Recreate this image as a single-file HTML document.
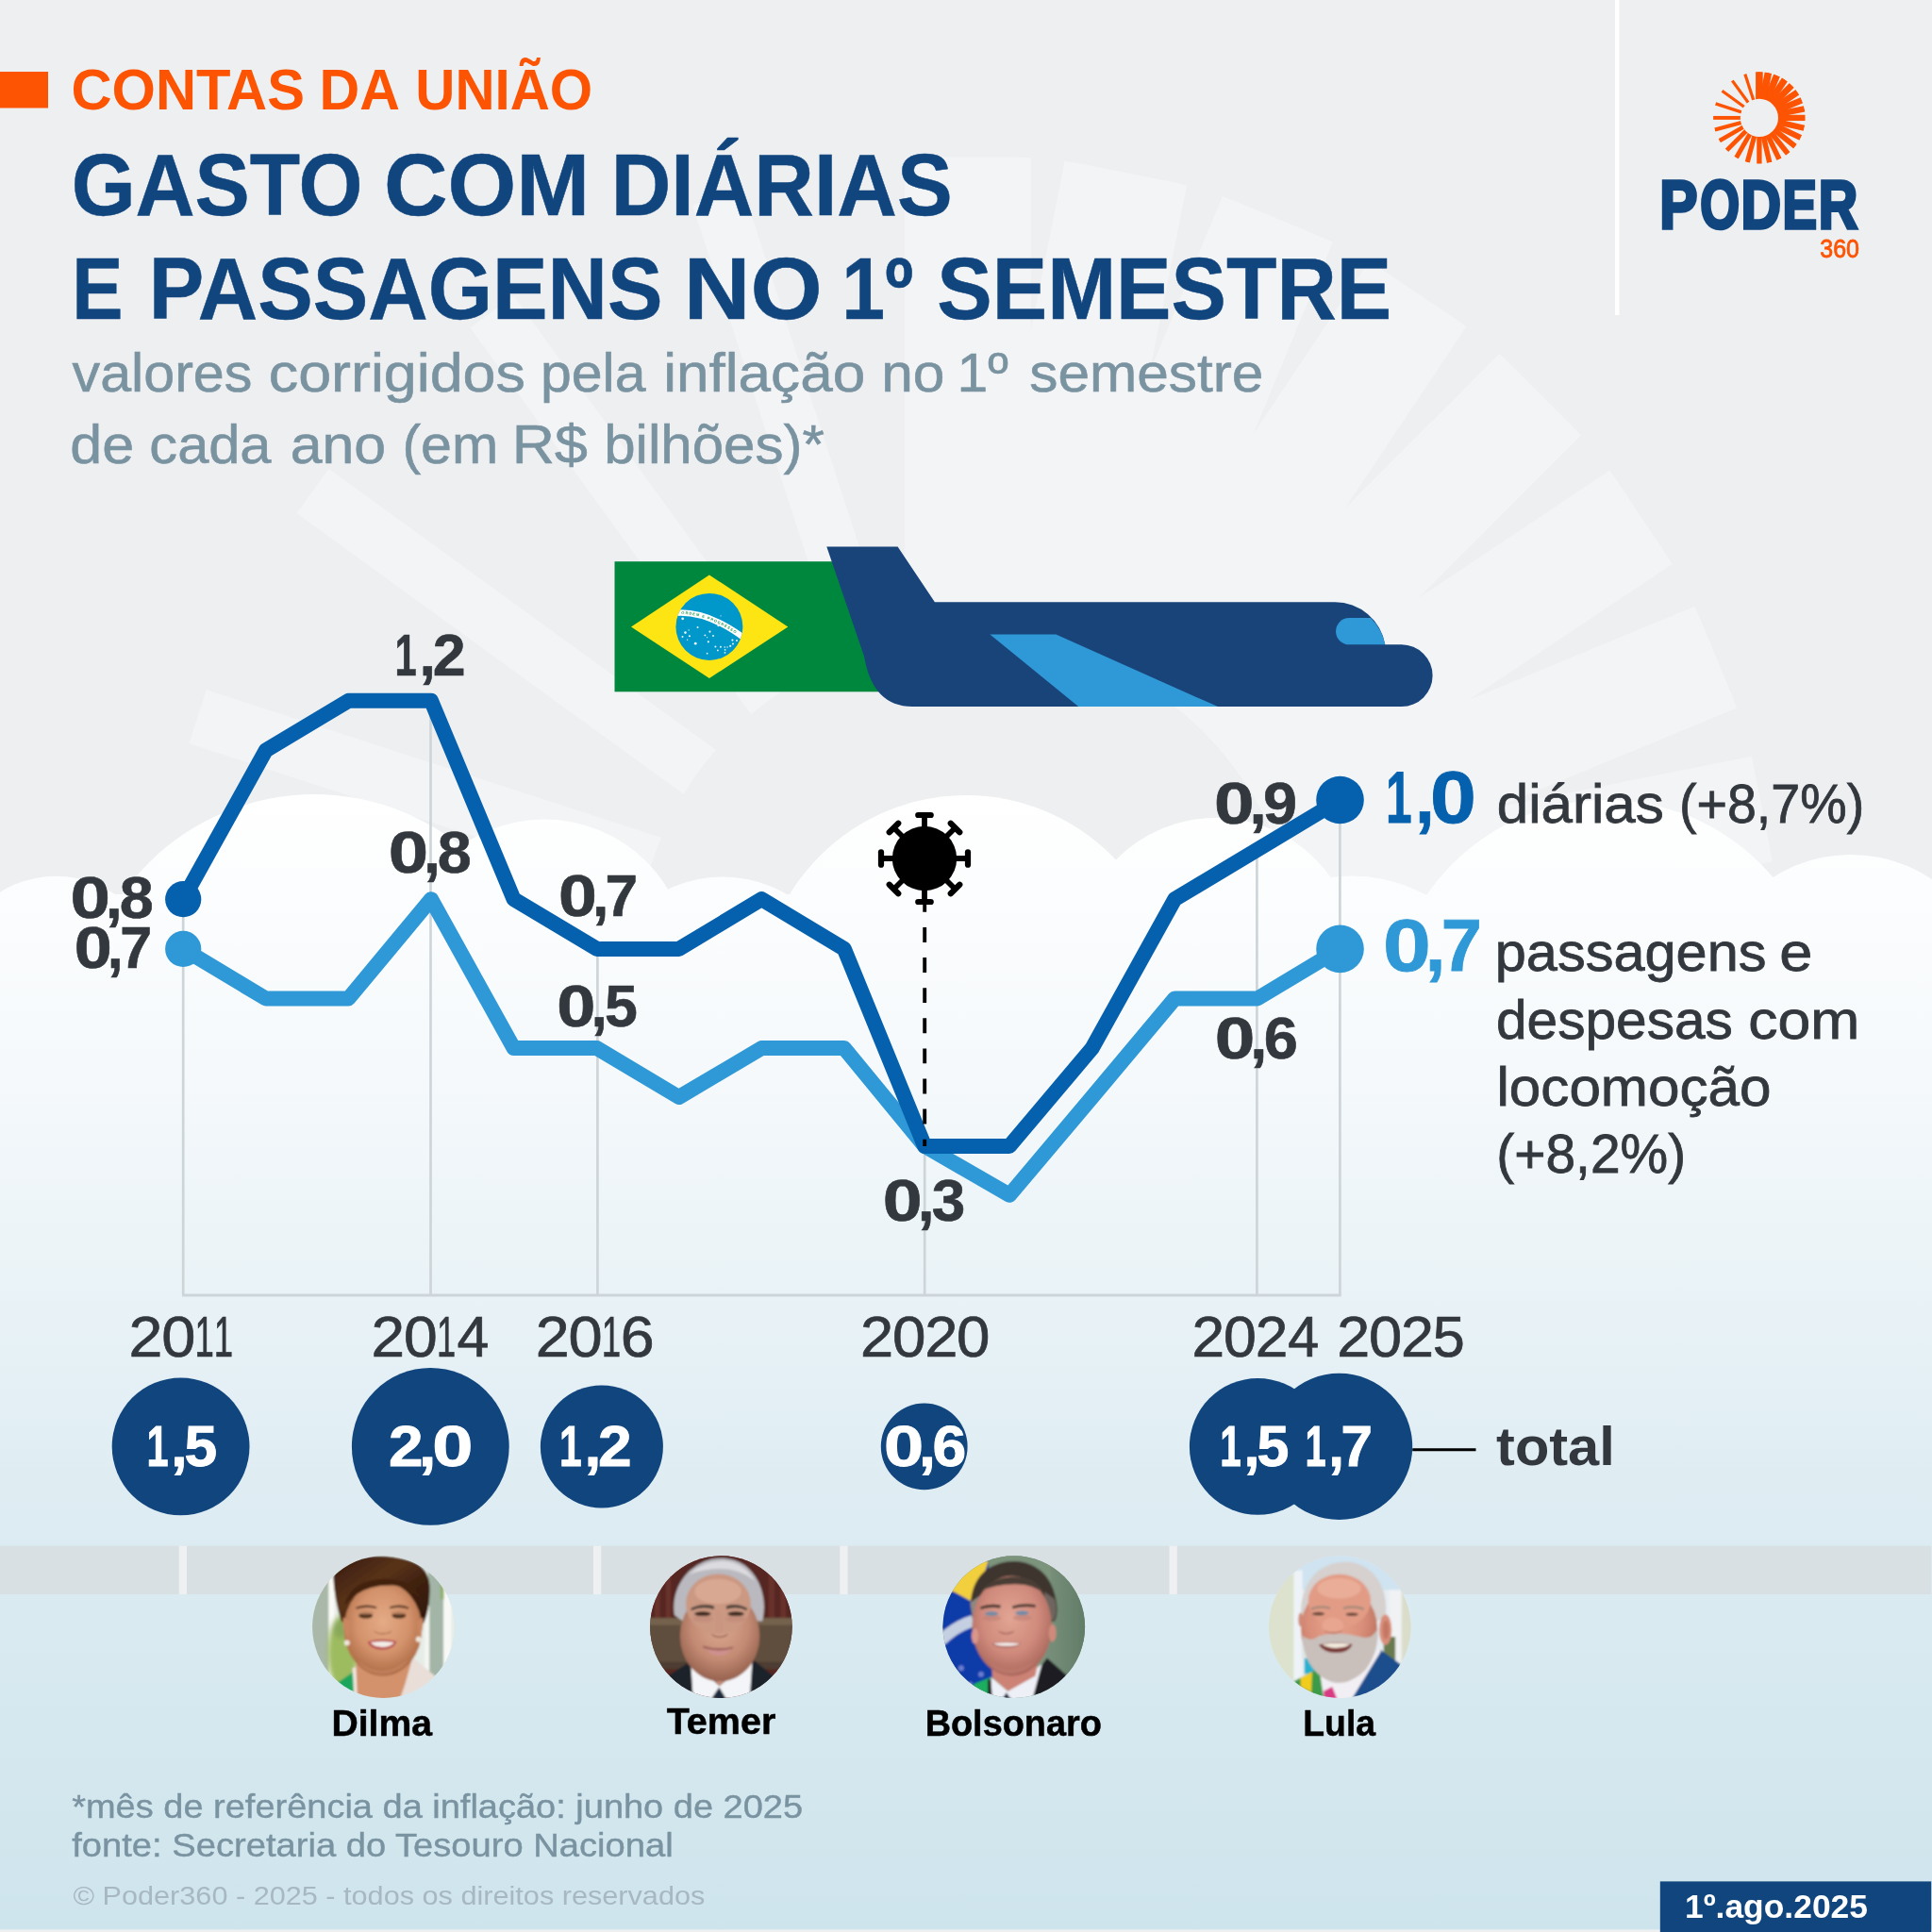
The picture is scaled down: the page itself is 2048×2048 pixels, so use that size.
<!DOCTYPE html>
<html lang="pt-BR"><head><meta charset="utf-8"><title>Gasto com diárias e passagens no 1º semestre</title>
<style>html,body{margin:0;padding:0;background:#eeeff1}body{width:2048px;height:2048px;overflow:hidden}svg{display:block}</style></head>
<body>
<svg width="2048" height="2048" viewBox="0 0 2048 2048" font-family='"Liberation Sans", sans-serif'>
<defs>
<linearGradient id="sky" x1="0" y1="840" x2="0" y2="2048" gradientUnits="userSpaceOnUse">
<stop offset="0" stop-color="#ffffff"/><stop offset="0.25" stop-color="#f5f9fb"/><stop offset="0.6" stop-color="#dfedf3"/><stop offset="1" stop-color="#cee4ec"/></linearGradient>
</defs>
<rect width="2048" height="2048" fill="#eeeff1"/>
<defs><mask id="mbg" maskUnits="userSpaceOnUse" x="146.5" y="145.5" width="1759.0" height="1759.0"><circle cx="1026" cy="1025" r="860.2" fill="#fff"/><circle cx="1026" cy="1025" r="352.7" fill="#000"/></mask></defs>
<g fill="#f3f4f6" mask="url(#mbg)">
<rect x="175.9" y="-28.14" width="682.5" height="56.29" transform="translate(1026,1025) rotate(-108.000)"/>
<rect x="175.9" y="-28.58" width="682.5" height="57.17" transform="translate(1026,1025) rotate(-126.000)"/>
<rect x="175.9" y="-29.02" width="682.5" height="58.05" transform="translate(1026,1025) rotate(-144.000)"/>
<rect x="175.9" y="-29.90" width="682.5" height="59.81" transform="translate(1026,1025) rotate(-162.000)"/>
<rect x="175.9" y="-34.30" width="682.5" height="68.60" transform="translate(1026,1025) rotate(-180.000)"/>
<rect x="175.9" y="-36.94" width="682.5" height="73.88" transform="translate(1026,1025) rotate(-195.000)"/>
<rect x="175.9" y="-39.58" width="682.5" height="79.16" transform="translate(1026,1025) rotate(-210.000)"/>
<rect x="175.9" y="-42.22" width="682.5" height="84.43" transform="translate(1026,1025) rotate(-225.000)"/>
<rect x="175.9" y="-43.68" width="682.5" height="87.36" transform="translate(1026,1025) rotate(-240.000)"/>
<rect x="175.9" y="-45.15" width="682.5" height="90.30" transform="translate(1026,1025) rotate(-255.000)"/>
<rect x="175.9" y="-46.61" width="682.5" height="93.23" transform="translate(1026,1025) rotate(-270.000)"/>
<rect x="175.9" y="-47.87" width="682.5" height="95.74" transform="translate(1026,1025) rotate(-282.857)"/>
<rect x="175.9" y="-49.13" width="682.5" height="98.25" transform="translate(1026,1025) rotate(-295.714)"/>
<rect x="175.9" y="-50.38" width="682.5" height="100.77" transform="translate(1026,1025) rotate(-308.571)"/>
<rect x="175.9" y="-51.64" width="682.5" height="103.28" transform="translate(1026,1025) rotate(-321.429)"/>
<rect x="175.9" y="-52.90" width="682.5" height="105.79" transform="translate(1026,1025) rotate(-334.286)"/>
<rect x="175.9" y="-54.15" width="682.5" height="108.30" transform="translate(1026,1025) rotate(-347.143)"/>
<rect x="175.9" y="-55.41" width="682.5" height="110.82" transform="translate(1026,1025) rotate(-360.000)"/>
<rect x="175.9" y="-56.84" width="682.5" height="113.68" transform="translate(1026,1025) rotate(-371.250)"/>
<rect x="175.9" y="-58.27" width="682.5" height="116.53" transform="translate(1026,1025) rotate(-382.500)"/>
<rect x="175.9" y="-59.70" width="682.5" height="119.39" transform="translate(1026,1025) rotate(-393.750)"/>
<rect x="175.9" y="-61.13" width="682.5" height="122.25" transform="translate(1026,1025) rotate(-405.000)"/>
<rect x="175.9" y="-62.22" width="682.5" height="124.45" transform="translate(1026,1025) rotate(-416.250)"/>
<rect x="175.9" y="-63.32" width="682.5" height="126.65" transform="translate(1026,1025) rotate(-427.500)"/>
<rect x="175.9" y="-65.96" width="682.5" height="131.93" transform="translate(1026,1025) rotate(-438.750)"/>
<rect x="175.9" y="-66.84" width="682.5" height="133.68" transform="translate(1026,1025) rotate(-450.000)"/>
</g>
<g fill="url(#sky)">
<circle cx="59.3" cy="1041" r="112.2"/>
<circle cx="333" cy="1090" r="248"/>
<circle cx="577" cy="1021.5" r="153"/>
<circle cx="766" cy="1062.7" r="133.3"/>
<circle cx="1024" cy="1062" r="219"/>
<circle cx="1289" cy="1016" r="149"/>
<circle cx="1433" cy="1092" r="163.4"/>
<circle cx="1703" cy="1079" r="231"/>
<circle cx="1962" cy="1059.4" r="153.5"/>
<rect x="0" y="948" width="2048" height="1097.4"/>
</g>
<rect x="0" y="76" width="51" height="38.5" fill="#fc5403"/>
<text y="116.40" font-size="61" fill="#fc5403" font-weight="bold" ><tspan x="75.50" textLength="247.49" lengthAdjust="spacingAndGlyphs">CONTAS</tspan><tspan> </tspan><tspan x="338.54" textLength="83.28" lengthAdjust="spacingAndGlyphs">DA</tspan><tspan> </tspan><tspan x="440.30" textLength="187.85" lengthAdjust="spacingAndGlyphs">UNIÃO</tspan></text>
<text y="227.50" font-size="92" fill="#11457e" font-weight="bold" stroke="#11457e" stroke-width="0.5"><tspan x="75.64" textLength="308.91" lengthAdjust="spacingAndGlyphs">GASTO</tspan><tspan> </tspan><tspan x="407.06" textLength="218.19" lengthAdjust="spacingAndGlyphs">COM</tspan><tspan> </tspan><tspan x="647.81" textLength="361.82" lengthAdjust="spacingAndGlyphs">DIÁRIAS</tspan></text>
<text y="338.00" font-size="92" fill="#11457e" font-weight="bold" stroke="#11457e" stroke-width="0.5"><tspan x="76.26" textLength="54.21" lengthAdjust="spacingAndGlyphs">E</tspan><tspan> </tspan><tspan x="157.70" textLength="544.89" lengthAdjust="spacingAndGlyphs">PASSAGENS</tspan><tspan> </tspan><tspan x="724.75" textLength="146.86" lengthAdjust="spacingAndGlyphs">NO</tspan><tspan> </tspan><tspan x="892.31" textLength="75.90" lengthAdjust="spacingAndGlyphs">1º</tspan><tspan> </tspan><tspan x="993.28" textLength="481.95" lengthAdjust="spacingAndGlyphs">SEMESTRE</tspan></text>
<text y="414.60" font-size="58" fill="#7a93a1" font-weight="normal" stroke="#7a93a1" stroke-width="0.6"><tspan x="76.60" textLength="190.74" lengthAdjust="spacingAndGlyphs">valores</tspan><tspan> </tspan><tspan x="284.83" textLength="272.03" lengthAdjust="spacingAndGlyphs">corrigidos</tspan><tspan> </tspan><tspan x="573.00" textLength="111.50" lengthAdjust="spacingAndGlyphs">pela</tspan><tspan> </tspan><tspan x="703.25" textLength="213.96" lengthAdjust="spacingAndGlyphs">inflação</tspan><tspan> </tspan><tspan x="934.19" textLength="67.14" lengthAdjust="spacingAndGlyphs">no</tspan><tspan> </tspan><tspan x="1014.51" textLength="54.31" lengthAdjust="spacingAndGlyphs">1º</tspan><tspan> </tspan><tspan x="1091.32" textLength="247.96" lengthAdjust="spacingAndGlyphs">semestre</tspan></text>
<text y="490.80" font-size="58" fill="#7a93a1" font-weight="normal" stroke="#7a93a1" stroke-width="0.6"><tspan x="74.24" textLength="67.87" lengthAdjust="spacingAndGlyphs">de</tspan><tspan> </tspan><tspan x="158.37" textLength="129.13" lengthAdjust="spacingAndGlyphs">cada</tspan><tspan> </tspan><tspan x="307.72" textLength="101.44" lengthAdjust="spacingAndGlyphs">ano</tspan><tspan> </tspan><tspan x="426.44" textLength="101.76" lengthAdjust="spacingAndGlyphs">(em</tspan><tspan> </tspan><tspan x="542.76" textLength="80.15" lengthAdjust="spacingAndGlyphs">R$</tspan><tspan> </tspan><tspan x="640.23" textLength="233.71" lengthAdjust="spacingAndGlyphs">bilhões)*</tspan></text>
<rect x="1712" y="0" width="4.5" height="334" fill="#ffffff"/>
<defs><mask id="mlg" maskUnits="userSpaceOnUse" x="1814.9" y="74.9" width="100.0" height="100.0"><circle cx="1864.9" cy="124.9" r="48.9" fill="#fff"/><circle cx="1864.9" cy="124.9" r="20.1" fill="#000"/></mask></defs>
<g fill="#fc5403" mask="url(#mlg)">
<rect x="10.0" y="-1.60" width="38.8" height="3.20" transform="translate(1864.9,124.9) rotate(-108.000)"/>
<rect x="10.0" y="-1.62" width="38.8" height="3.25" transform="translate(1864.9,124.9) rotate(-126.000)"/>
<rect x="10.0" y="-1.65" width="38.8" height="3.30" transform="translate(1864.9,124.9) rotate(-144.000)"/>
<rect x="10.0" y="-1.70" width="38.8" height="3.40" transform="translate(1864.9,124.9) rotate(-162.000)"/>
<rect x="10.0" y="-1.95" width="38.8" height="3.90" transform="translate(1864.9,124.9) rotate(-180.000)"/>
<rect x="10.0" y="-2.10" width="38.8" height="4.20" transform="translate(1864.9,124.9) rotate(-195.000)"/>
<rect x="10.0" y="-2.25" width="38.8" height="4.50" transform="translate(1864.9,124.9) rotate(-210.000)"/>
<rect x="10.0" y="-2.40" width="38.8" height="4.80" transform="translate(1864.9,124.9) rotate(-225.000)"/>
<rect x="10.0" y="-2.48" width="38.8" height="4.97" transform="translate(1864.9,124.9) rotate(-240.000)"/>
<rect x="10.0" y="-2.57" width="38.8" height="5.13" transform="translate(1864.9,124.9) rotate(-255.000)"/>
<rect x="10.0" y="-2.65" width="38.8" height="5.30" transform="translate(1864.9,124.9) rotate(-270.000)"/>
<rect x="10.0" y="-2.72" width="38.8" height="5.44" transform="translate(1864.9,124.9) rotate(-282.857)"/>
<rect x="10.0" y="-2.79" width="38.8" height="5.59" transform="translate(1864.9,124.9) rotate(-295.714)"/>
<rect x="10.0" y="-2.86" width="38.8" height="5.73" transform="translate(1864.9,124.9) rotate(-308.571)"/>
<rect x="10.0" y="-2.94" width="38.8" height="5.87" transform="translate(1864.9,124.9) rotate(-321.429)"/>
<rect x="10.0" y="-3.01" width="38.8" height="6.01" transform="translate(1864.9,124.9) rotate(-334.286)"/>
<rect x="10.0" y="-3.08" width="38.8" height="6.16" transform="translate(1864.9,124.9) rotate(-347.143)"/>
<rect x="10.0" y="-3.15" width="38.8" height="6.30" transform="translate(1864.9,124.9) rotate(-360.000)"/>
<rect x="10.0" y="-3.23" width="38.8" height="6.46" transform="translate(1864.9,124.9) rotate(-371.250)"/>
<rect x="10.0" y="-3.31" width="38.8" height="6.62" transform="translate(1864.9,124.9) rotate(-382.500)"/>
<rect x="10.0" y="-3.39" width="38.8" height="6.79" transform="translate(1864.9,124.9) rotate(-393.750)"/>
<rect x="10.0" y="-3.48" width="38.8" height="6.95" transform="translate(1864.9,124.9) rotate(-405.000)"/>
<rect x="10.0" y="-3.54" width="38.8" height="7.08" transform="translate(1864.9,124.9) rotate(-416.250)"/>
<rect x="10.0" y="-3.60" width="38.8" height="7.20" transform="translate(1864.9,124.9) rotate(-427.500)"/>
<rect x="10.0" y="-3.75" width="38.8" height="7.50" transform="translate(1864.9,124.9) rotate(-438.750)"/>
<rect x="10.0" y="-3.80" width="38.8" height="7.60" transform="translate(1864.9,124.9) rotate(-450.000)"/>
</g>
<text y="241.90" font-size="72.6" fill="#11457e" font-weight="bold" stroke="#11457e" stroke-width="3.6" stroke-linejoin="miter"><tspan x="1759.27" textLength="40.19" lengthAdjust="spacingAndGlyphs">P</tspan><tspan x="1802.19" textLength="41.87" lengthAdjust="spacingAndGlyphs">O</tspan><tspan x="1845.56" textLength="42.51" lengthAdjust="spacingAndGlyphs">D</tspan><tspan x="1889.54" textLength="36.50" lengthAdjust="spacingAndGlyphs">E</tspan><tspan x="1927.75" textLength="41.53" lengthAdjust="spacingAndGlyphs">R</tspan></text>
<text x="1929.25" y="273.20" font-size="28.4" fill="#fc5403" font-weight="normal" text-anchor="start" textLength="41.73" lengthAdjust="spacingAndGlyphs" stroke="#fc5403" stroke-width="0.8">360</text>
<rect x="651.5" y="595.2" width="300" height="138.1" fill="#00873e"/>
<polygon points="669,664.4 751.9,609.4 835.3,664.4 751.9,719" fill="#fce512"/>
<circle cx="751.9" cy="664.4" r="35.5" fill="#0098cb"/>
<defs><clipPath id="fc"><circle cx="751.9" cy="664.4" r="35.5"/></clipPath></defs>
<path id="band" d="M715,649.8 Q749.5,646.6 790,677.2" fill="none" stroke="#fff" stroke-width="6.4" clip-path="url(#fc)"/>
<text font-size="3.9" font-weight="bold" fill="#1f9a4f" letter-spacing="1.12"><textPath href="#band" startOffset="7.4"><tspan dy="1.35">ORDEM E PROGRESSO</tspan></textPath></text>
<circle cx="723.68" cy="655.79" r="1.4" fill="#eaf4fb"/>
<circle cx="739.56" cy="665.10" r="1.0" fill="#eaf4fb"/>
<circle cx="730.14" cy="667.90" r="0.7" fill="#eaf4fb"/>
<circle cx="726.48" cy="670.59" r="1.3" fill="#eaf4fb"/>
<circle cx="730.95" cy="674.25" r="1.1" fill="#eaf4fb"/>
<circle cx="723.52" cy="674.90" r="1.0" fill="#eaf4fb"/>
<circle cx="728.63" cy="678.13" r="0.7" fill="#eaf4fb"/>
<circle cx="737.24" cy="682.16" r="1.4" fill="#eaf4fb"/>
<circle cx="752.48" cy="669.62" r="1.1" fill="#eaf4fb"/>
<circle cx="747.36" cy="673.44" r="0.9" fill="#eaf4fb"/>
<circle cx="755.97" cy="674.09" r="1.0" fill="#eaf4fb"/>
<circle cx="749.62" cy="675.71" r="0.6" fill="#eaf4fb"/>
<circle cx="750.86" cy="680.28" r="1.1" fill="#eaf4fb"/>
<circle cx="761.36" cy="663.22" r="1.0" fill="#eaf4fb"/>
<circle cx="764.05" cy="652.83" r="0.6" fill="#eaf4fb"/>
<circle cx="758.40" cy="685.39" r="1.0" fill="#eaf4fb"/>
<circle cx="763.94" cy="685.77" r="1.0" fill="#eaf4fb"/>
<circle cx="768.25" cy="685.93" r="0.8" fill="#eaf4fb"/>
<circle cx="771.04" cy="685.93" r="0.7" fill="#eaf4fb"/>
<circle cx="774.17" cy="684.85" r="1.1" fill="#eaf4fb"/>
<circle cx="776.96" cy="682.43" r="1.0" fill="#eaf4fb"/>
<circle cx="776.43" cy="678.56" r="1.1" fill="#eaf4fb"/>
<circle cx="781.00" cy="678.93" r="1.0" fill="#eaf4fb"/>
<circle cx="760.82" cy="689.43" r="0.9" fill="#eaf4fb"/>
<circle cx="768.62" cy="688.78" r="0.9" fill="#eaf4fb"/>
<circle cx="768.46" cy="691.85" r="0.9" fill="#eaf4fb"/>
<circle cx="749.62" cy="692.66" r="0.9" fill="#eaf4fb"/>
<path d="M876.3,579.6 L951.6,579.6 L990.9,638.3 L1415,638.3 A54,54 0 0 1 1468.3,683.3 L1485.7,683.3 A32.9,32.9 0 0 1 1485.7,749.1 L967.2,749.1 Q925,749 916.1,696.1 Z" fill="#19447a"/>
<polygon points="1049.4,672.6 1119.4,672.6 1291,749.1 1143.2,749.1" fill="#2f98d6"/>
<path d="M1430.2,655 L1453,655 A54,54 0 0 1 1468.3,683.3 L1430.2,683.3 A14.15,14.15 0 0 1 1430.2,655 Z" fill="#2f98d6"/>
<line x1="194.2" y1="953.2" x2="194.2" y2="1373" stroke="#ced5d9" stroke-width="2.7"/>
<line x1="456.5" y1="742.8" x2="456.5" y2="1373" stroke="#ced5d9" stroke-width="2.7"/>
<line x1="633.4" y1="1005.9" x2="633.4" y2="1373" stroke="#ced5d9" stroke-width="2.7"/>
<line x1="980.2" y1="1214.9" x2="980.2" y2="1373" stroke="#ced5d9" stroke-width="2.7"/>
<line x1="1332.4" y1="900.6" x2="1332.4" y2="1373" stroke="#ced5d9" stroke-width="2.7"/>
<line x1="1420.4" y1="848.0" x2="1420.4" y2="1373" stroke="#ced5d9" stroke-width="2.7"/>
<line x1="193.1" y1="1373" x2="1421.6" y2="1373" stroke="#ced5d9" stroke-width="2.9"/>
<polyline points="194.2,1005.9 281.8,1058.5 369.4,1058.5 457.0,953.2 544.6,1111.1 632.8,1111.1 719.7,1163.0 807.3,1111.1 894.9,1111.1 980.2,1214.9 1070.1,1266.8 1157.7,1163.0 1245.3,1058.5 1332.9,1058.5 1420.5,1005.9" fill="none" stroke="#2f98d6" stroke-width="16" stroke-linejoin="round" stroke-linecap="butt"/>
<polyline points="194.2,953.2 281.8,795.4 369.4,742.8 457.0,742.8 544.6,953.2 632.8,1005.9 719.7,1005.9 807.3,953.2 894.9,1005.9 980.2,1214.9 1070.1,1214.9 1157.7,1111.1 1245.3,953.2 1332.9,900.6 1420.5,848.0" fill="none" stroke="#0560ad" stroke-width="16" stroke-linejoin="round" stroke-linecap="butt"/>
<circle cx="194.2" cy="953.2" r="19.1" fill="#0560ad"/>
<circle cx="194.2" cy="1005.9" r="19.1" fill="#2f98d6"/>
<circle cx="1420.5" cy="848.0" r="25.3" fill="#0560ad"/>
<circle cx="1420.5" cy="1005.9" r="25.3" fill="#2f98d6"/>
<line x1="980.2" y1="950.9" x2="980.2" y2="1215" stroke="#000" stroke-width="3.9" stroke-dasharray="15.9 16.2"/>
<g transform="translate(980,910)" stroke="#000" fill="#000">
<circle r="34.2" stroke="none"/>
<g transform="rotate(0)"><line x1="0" y1="0" x2="46" y2="0" stroke-width="5.8"/><line x1="46" y1="-6.75" x2="46" y2="6.75" stroke-width="6.2" stroke-linecap="round"/></g>
<g transform="rotate(45)"><line x1="0" y1="0" x2="46" y2="0" stroke-width="5.8"/><line x1="46" y1="-6.75" x2="46" y2="6.75" stroke-width="6.2" stroke-linecap="round"/></g>
<g transform="rotate(90)"><line x1="0" y1="0" x2="46" y2="0" stroke-width="5.8"/><line x1="46" y1="-6.75" x2="46" y2="6.75" stroke-width="6.2" stroke-linecap="round"/></g>
<g transform="rotate(135)"><line x1="0" y1="0" x2="46" y2="0" stroke-width="5.8"/><line x1="46" y1="-6.75" x2="46" y2="6.75" stroke-width="6.2" stroke-linecap="round"/></g>
<g transform="rotate(180)"><line x1="0" y1="0" x2="46" y2="0" stroke-width="5.8"/><line x1="46" y1="-6.75" x2="46" y2="6.75" stroke-width="6.2" stroke-linecap="round"/></g>
<g transform="rotate(225)"><line x1="0" y1="0" x2="46" y2="0" stroke-width="5.8"/><line x1="46" y1="-6.75" x2="46" y2="6.75" stroke-width="6.2" stroke-linecap="round"/></g>
<g transform="rotate(270)"><line x1="0" y1="0" x2="46" y2="0" stroke-width="5.8"/><line x1="46" y1="-6.75" x2="46" y2="6.75" stroke-width="6.2" stroke-linecap="round"/></g>
<g transform="rotate(315)"><line x1="0" y1="0" x2="46" y2="0" stroke-width="5.8"/><line x1="46" y1="-6.75" x2="46" y2="6.75" stroke-width="6.2" stroke-linecap="round"/></g>
</g>
<text y="973.20" font-size="62.2" fill="#33383e" font-weight="bold" stroke="#33383e" stroke-width="0.6"><tspan x="74.58" textLength="42.43" lengthAdjust="spacingAndGlyphs">0</tspan><tspan x="111.89" textLength="17.97" lengthAdjust="spacingAndGlyphs">,</tspan><tspan x="126.72" textLength="35.97" lengthAdjust="spacingAndGlyphs">8</tspan></text>
<text y="1026.00" font-size="62.2" fill="#33383e" font-weight="bold" stroke="#33383e" stroke-width="0.6"><tspan x="78.65" textLength="40.03" lengthAdjust="spacingAndGlyphs">0</tspan><tspan x="113.85" textLength="16.95" lengthAdjust="spacingAndGlyphs">,</tspan><tspan x="127.15" textLength="33.93" lengthAdjust="spacingAndGlyphs">7</tspan></text>
<text y="715.80" font-size="62.2" fill="#33383e" font-weight="bold" stroke="#33383e" stroke-width="0.6"><tspan x="418.57" textLength="23.24" lengthAdjust="spacingAndGlyphs">1</tspan><tspan x="444.54" textLength="17.43" lengthAdjust="spacingAndGlyphs">,</tspan><tspan x="458.73" textLength="34.88" lengthAdjust="spacingAndGlyphs">2</tspan></text>
<text y="925.20" font-size="62.2" fill="#33383e" font-weight="bold" stroke="#33383e" stroke-width="0.6"><tspan x="411.79" textLength="42.38" lengthAdjust="spacingAndGlyphs">0</tspan><tspan x="449.05" textLength="17.95" lengthAdjust="spacingAndGlyphs">,</tspan><tspan x="463.86" textLength="35.93" lengthAdjust="spacingAndGlyphs">8</tspan></text>
<text y="970.60" font-size="62.2" fill="#33383e" font-weight="bold" stroke="#33383e" stroke-width="0.6"><tspan x="592.00" textLength="40.81" lengthAdjust="spacingAndGlyphs">0</tspan><tspan x="627.88" textLength="17.28" lengthAdjust="spacingAndGlyphs">,</tspan><tspan x="641.44" textLength="34.60" lengthAdjust="spacingAndGlyphs">7</tspan></text>
<text y="1087.50" font-size="62.2" fill="#33383e" font-weight="bold" stroke="#33383e" stroke-width="0.6"><tspan x="590.37" textLength="41.14" lengthAdjust="spacingAndGlyphs">0</tspan><tspan x="626.54" textLength="17.42" lengthAdjust="spacingAndGlyphs">,</tspan><tspan x="640.97" textLength="34.87" lengthAdjust="spacingAndGlyphs">5</tspan></text>
<text y="1293.70" font-size="62.2" fill="#33383e" font-weight="bold" stroke="#33383e" stroke-width="0.6"><tspan x="935.82" textLength="41.91" lengthAdjust="spacingAndGlyphs">0</tspan><tspan x="972.67" textLength="17.75" lengthAdjust="spacingAndGlyphs">,</tspan><tspan x="987.88" textLength="35.53" lengthAdjust="spacingAndGlyphs">3</tspan></text>
<text y="872.80" font-size="62.2" fill="#33383e" font-weight="bold" stroke="#33383e" stroke-width="0.6"><tspan x="1286.97" textLength="42.59" lengthAdjust="spacingAndGlyphs">0</tspan><tspan x="1324.42" textLength="18.04" lengthAdjust="spacingAndGlyphs">,</tspan><tspan x="1339.10" textLength="36.10" lengthAdjust="spacingAndGlyphs">9</tspan></text>
<text y="1121.60" font-size="62.2" fill="#33383e" font-weight="bold" stroke="#33383e" stroke-width="0.6"><tspan x="1287.77" textLength="42.62" lengthAdjust="spacingAndGlyphs">0</tspan><tspan x="1325.24" textLength="18.05" lengthAdjust="spacingAndGlyphs">,</tspan><tspan x="1339.82" textLength="36.13" lengthAdjust="spacingAndGlyphs">6</tspan></text>
<text y="872.40" font-size="77.6" fill="#0560ad" font-weight="bold" stroke="#0560ad" stroke-width="0.8"><tspan x="1469.07" textLength="27.62" lengthAdjust="spacingAndGlyphs">1</tspan><tspan x="1499.94" textLength="20.71" lengthAdjust="spacingAndGlyphs">,</tspan><tspan x="1515.91" textLength="48.90" lengthAdjust="spacingAndGlyphs">0</tspan></text>
<text y="1029.10" font-size="77.6" fill="#2f98d6" font-weight="bold" stroke="#2f98d6" stroke-width="0.8"><tspan x="1466.08" textLength="50.86" lengthAdjust="spacingAndGlyphs">0</tspan><tspan x="1510.80" textLength="21.54" lengthAdjust="spacingAndGlyphs">,</tspan><tspan x="1527.69" textLength="43.11" lengthAdjust="spacingAndGlyphs">7</tspan></text>
<text y="872.00" font-size="58" fill="#33383e" font-weight="normal" stroke="#33383e" stroke-width="0.8"><tspan x="1586.78" textLength="177.10" lengthAdjust="spacingAndGlyphs">diárias</tspan><tspan> </tspan><tspan x="1779.95" textLength="196.30" lengthAdjust="spacingAndGlyphs">(+8,7%)</tspan></text>
<text y="1029.20" font-size="58" fill="#33383e" font-weight="normal" stroke="#33383e" stroke-width="0.8"><tspan x="1584.77" textLength="287.68" lengthAdjust="spacingAndGlyphs">passagens</tspan><tspan> </tspan><tspan x="1886.22" textLength="35.08" lengthAdjust="spacingAndGlyphs">e</tspan></text>
<text y="1100.70" font-size="58" fill="#33383e" font-weight="normal" stroke="#33383e" stroke-width="0.8"><tspan x="1585.94" textLength="250.98" lengthAdjust="spacingAndGlyphs">despesas</tspan><tspan> </tspan><tspan x="1853.34" textLength="118.08" lengthAdjust="spacingAndGlyphs">com</tspan></text>
<text x="1586.44" y="1172.20" font-size="58" fill="#33383e" font-weight="normal" text-anchor="start" textLength="291.08" lengthAdjust="spacingAndGlyphs" stroke="#33383e" stroke-width="0.8">locomoção</text>
<text x="1586.27" y="1243.20" font-size="58" fill="#33383e" font-weight="normal" text-anchor="start" textLength="200.86" lengthAdjust="spacingAndGlyphs" stroke="#33383e" stroke-width="0.8">(+8,2%)</text>
<text y="1437.60" font-size="62" fill="#33383e" font-weight="normal" stroke="#33383e" stroke-width="0.7"><tspan x="136.56" textLength="35.86" lengthAdjust="spacingAndGlyphs">2</tspan><tspan x="171.19" textLength="36.08" lengthAdjust="spacingAndGlyphs">0</tspan><tspan x="206.50" textLength="20.35" lengthAdjust="spacingAndGlyphs">1</tspan><tspan x="226.83" textLength="20.35" lengthAdjust="spacingAndGlyphs">1</tspan></text>
<text y="1437.60" font-size="62" fill="#33383e" font-weight="normal" stroke="#33383e" stroke-width="0.7"><tspan x="393.59" textLength="35.52" lengthAdjust="spacingAndGlyphs">2</tspan><tspan x="427.90" textLength="35.74" lengthAdjust="spacingAndGlyphs">0</tspan><tspan x="462.88" textLength="20.16" lengthAdjust="spacingAndGlyphs">1</tspan><tspan x="484.38" textLength="33.91" lengthAdjust="spacingAndGlyphs">4</tspan></text>
<text y="1437.60" font-size="62" fill="#33383e" font-weight="normal" stroke="#33383e" stroke-width="0.7"><tspan x="567.75" textLength="35.90" lengthAdjust="spacingAndGlyphs">2</tspan><tspan x="602.43" textLength="36.12" lengthAdjust="spacingAndGlyphs">0</tspan><tspan x="637.78" textLength="20.38" lengthAdjust="spacingAndGlyphs">1</tspan><tspan x="657.65" textLength="35.89" lengthAdjust="spacingAndGlyphs">6</tspan></text>
<text y="1437.60" font-size="62" fill="#33383e" font-weight="normal" stroke="#33383e" stroke-width="0.7"><tspan x="912.02" textLength="35.16" lengthAdjust="spacingAndGlyphs">2</tspan><tspan x="945.98" textLength="35.38" lengthAdjust="spacingAndGlyphs">0</tspan><tspan x="980.15" textLength="35.16" lengthAdjust="spacingAndGlyphs">2</tspan><tspan x="1014.11" textLength="35.38" lengthAdjust="spacingAndGlyphs">0</tspan></text>
<text y="1437.60" font-size="62" fill="#33383e" font-weight="normal" stroke="#33383e" stroke-width="0.7"><tspan x="1263.57" textLength="34.62" lengthAdjust="spacingAndGlyphs">2</tspan><tspan x="1297.01" textLength="34.84" lengthAdjust="spacingAndGlyphs">0</tspan><tspan x="1330.67" textLength="34.62" lengthAdjust="spacingAndGlyphs">2</tspan><tspan x="1365.19" textLength="33.05" lengthAdjust="spacingAndGlyphs">4</tspan></text>
<text y="1437.60" font-size="62" fill="#33383e" font-weight="normal" stroke="#33383e" stroke-width="0.7"><tspan x="1417.24" textLength="34.96" lengthAdjust="spacingAndGlyphs">2</tspan><tspan x="1451.00" textLength="35.17" lengthAdjust="spacingAndGlyphs">0</tspan><tspan x="1484.98" textLength="34.96" lengthAdjust="spacingAndGlyphs">2</tspan><tspan x="1518.76" textLength="34.00" lengthAdjust="spacingAndGlyphs">5</tspan></text>
<circle cx="191.6" cy="1533.4" r="72.9" fill="#11457e"/>
<circle cx="456.3" cy="1533.4" r="83.4" fill="#11457e"/>
<circle cx="637.9" cy="1533.4" r="65" fill="#11457e"/>
<circle cx="979.7" cy="1533.4" r="45.9" fill="#11457e"/>
<circle cx="1333.3" cy="1533.4" r="72.4" fill="#11457e"/>
<circle cx="1419.6" cy="1533.4" r="77.6" fill="#11457e"/>
<text y="1553.80" font-size="61.6" fill="#fff" font-weight="bold" stroke="#fff" stroke-width="0.9"><tspan x="155.38" textLength="23.10" lengthAdjust="spacingAndGlyphs">1</tspan><tspan x="181.20" textLength="17.32" lengthAdjust="spacingAndGlyphs">,</tspan><tspan x="195.56" textLength="34.68" lengthAdjust="spacingAndGlyphs">5</tspan></text>
<text y="1553.80" font-size="61.6" fill="#fff" font-weight="bold" stroke="#fff" stroke-width="0.9"><tspan x="412.12" textLength="36.62" lengthAdjust="spacingAndGlyphs">2</tspan><tspan x="444.07" textLength="18.30" lengthAdjust="spacingAndGlyphs">,</tspan><tspan x="458.18" textLength="43.20" lengthAdjust="spacingAndGlyphs">0</tspan></text>
<text y="1553.80" font-size="61.6" fill="#fff" font-weight="bold" stroke="#fff" stroke-width="0.9"><tspan x="593.01" textLength="23.74" lengthAdjust="spacingAndGlyphs">1</tspan><tspan x="619.54" textLength="17.80" lengthAdjust="spacingAndGlyphs">,</tspan><tspan x="634.04" textLength="35.63" lengthAdjust="spacingAndGlyphs">2</tspan></text>
<text y="1553.80" font-size="61.6" fill="#fff" font-weight="bold" stroke="#fff" stroke-width="0.9"><tspan x="937.00" textLength="42.21" lengthAdjust="spacingAndGlyphs">0</tspan><tspan x="974.11" textLength="17.88" lengthAdjust="spacingAndGlyphs">,</tspan><tspan x="988.54" textLength="35.78" lengthAdjust="spacingAndGlyphs">6</tspan></text>
<text y="1553.80" font-size="61.6" fill="#fff" font-weight="bold" stroke="#fff" stroke-width="0.9"><tspan x="1293.34" textLength="22.58" lengthAdjust="spacingAndGlyphs">1</tspan><tspan x="1318.58" textLength="16.93" lengthAdjust="spacingAndGlyphs">,</tspan><tspan x="1332.60" textLength="33.89" lengthAdjust="spacingAndGlyphs">5</tspan></text>
<text y="1553.80" font-size="61.6" fill="#fff" font-weight="bold" stroke="#fff" stroke-width="0.9"><tspan x="1383.48" textLength="22.25" lengthAdjust="spacingAndGlyphs">1</tspan><tspan x="1408.35" textLength="16.69" lengthAdjust="spacingAndGlyphs">,</tspan><tspan x="1421.44" textLength="33.40" lengthAdjust="spacingAndGlyphs">7</tspan></text>
<line x1="1497.2" y1="1536.8" x2="1564.5" y2="1536.8" stroke="#000" stroke-width="3"/>
<text x="1586.07" y="1552.80" font-size="56.5" fill="#33383e" font-weight="bold" text-anchor="start" textLength="125.74" lengthAdjust="spacingAndGlyphs" >total</text>
<rect x="0" y="1638.7" width="2047.2" height="51.4" fill="#d8e0e3"/>
<rect x="189.7" y="1638.7" width="8.3" height="51.4" fill="#eef0f2"/>
<rect x="629" y="1638.7" width="8.3" height="51.4" fill="#eef0f2"/>
<rect x="890.3" y="1638.7" width="8.3" height="51.4" fill="#eef0f2"/>
<rect x="1239.5" y="1638.7" width="8.3" height="51.4" fill="#eef0f2"/>
<defs><clipPath id="pc"><circle r="75.3"/></clipPath>
<filter id="bl" x="-10%" y="-10%" width="120%" height="120%"><feGaussianBlur stdDeviation="13"/></filter>
<filter id="bl2" x="-10%" y="-10%" width="120%" height="120%"><feGaussianBlur stdDeviation="30"/></filter>
<radialGradient id="skD" cx="0.5" cy="0.42" r="0.62"><stop offset="0" stop-color="#e4ab86"/><stop offset="0.55" stop-color="#d3926b"/><stop offset="1" stop-color="#a5643d"/></radialGradient>
<radialGradient id="skT" cx="0.5" cy="0.4" r="0.65"><stop offset="0" stop-color="#dba890"/><stop offset="0.55" stop-color="#c48b74"/><stop offset="1" stop-color="#8c5946"/></radialGradient>
<radialGradient id="skB" cx="0.48" cy="0.42" r="0.65"><stop offset="0" stop-color="#e2a594"/><stop offset="0.55" stop-color="#cf8a7c"/><stop offset="1" stop-color="#9e5d52"/></radialGradient>
<radialGradient id="skL" cx="0.45" cy="0.4" r="0.65"><stop offset="0" stop-color="#eaa690"/><stop offset="0.55" stop-color="#d98f7a"/><stop offset="1" stop-color="#b56c58"/></radialGradient>
<linearGradient id="hairD" x1="0" y1="0" x2="1" y2="1"><stop offset="0" stop-color="#33190c"/><stop offset="0.4" stop-color="#5a3319"/><stop offset="0.65" stop-color="#3d200f"/><stop offset="1" stop-color="#2f160a"/></linearGradient>
<linearGradient id="bgB" x1="0" y1="0" x2="1" y2="0"><stop offset="0" stop-color="#6c8570"/><stop offset="0.5" stop-color="#8da28c"/><stop offset="1" stop-color="#5f7a66"/></linearGradient>
</defs>
<g transform="translate(406.4,1724.6)"><g clip-path="url(#pc)"><rect x="-80" y="-80" width="160" height="160" fill="#dfe6e0"/><g transform="translate(-80.4,-80.6) scale(0.082816)"><g filter="url(#bl)">
<rect x="0" y="0" width="1932" height="1932" fill="#e6ece6"/>
<rect x="0" y="0" width="275" height="1932" fill="#a9b8a8"/>
<rect x="270" y="300" width="75" height="1632" fill="#fbfbf8"/>
<g filter="url(#bl2)"><ellipse cx="450" cy="1300" rx="190" ry="480" fill="#9dbb5e"/><ellipse cx="430" cy="1000" rx="110" ry="120" fill="#8aa85a"/></g>
<rect x="1545" y="200" width="200" height="1732" fill="#a3b5a6"/>
<rect x="1500" y="700" width="60" height="1232" fill="#f4f6f2"/>
<rect x="1740" y="300" width="100" height="1632" fill="#f8f9f6"/>
<rect x="1700" y="420" width="45" height="200" fill="#8fb06a"/>
<path d="M1350,1370 L1630,1600 L1800,1932 L1150,1932 L1250,1650 Z" fill="#e9ded8"/>
<path d="M380,1690 L590,1545 L640,1932 L300,1932 Z" fill="#1fa55b"/>
<path d="M575,1500 L640,1480 L660,1932 L600,1932 Z" fill="#efe6e0"/>
<path d="M620,1450 L1340,1380 L1250,1700 L1170,1932 L640,1932 Z" fill="#d3926c"/>
<path d="M330,345 Q320,120 700,80 Q1000,30 1300,120 Q1580,200 1565,520 Q1560,760 1490,920 L1400,950 L520,950 L430,900 Q340,600 330,345 Z" fill="url(#hairD)"/>
<ellipse cx="965" cy="1000" rx="500" ry="600" fill="url(#skD)"/>
<path d="M455,850 Q440,1000 520,1150 L560,900 Z" fill="#c98660"/>
<path d="M1480,850 Q1490,1000 1420,1130 L1400,900 Z" fill="#c98660"/>
<path d="M470,700 Q560,360 1000,360 Q1380,360 1480,700 Q1380,470 1100,440 Q800,430 620,560 Q520,640 470,700 Z" fill="#43220f"/>
<path d="M620,720 Q750,670 885,715 L880,740 Q750,705 625,745 Z" fill="#5b3a28"/>
<path d="M1050,715 Q1180,670 1295,720 L1290,745 Q1180,705 1055,740 Z" fill="#5b3a28"/>
<ellipse cx="745" cy="828" rx="90" ry="36" fill="#4a2e1c"/><ellipse cx="1170" cy="828" rx="90" ry="36" fill="#4a2e1c"/>
<ellipse cx="745" cy="790" rx="110" ry="28" fill="#c58a66" opacity="0.7"/><ellipse cx="1170" cy="790" rx="110" ry="28" fill="#c58a66" opacity="0.7"/>
<path d="M840,1020 Q960,1090 1085,1020 Q1060,1060 960,1068 Q870,1060 840,1020Z" fill="#a8694a"/>
<path d="M770,1165 Q950,1110 1140,1160 Q1100,1265 950,1262 Q810,1260 770,1165 Z" fill="#b5404a"/>
<path d="M805,1172 Q950,1150 1110,1170 Q1060,1235 950,1232 Q850,1230 805,1172 Z" fill="#f3ede6"/>
<circle cx="505" cy="1178" r="36" fill="#efe6da"/><circle cx="1422" cy="1132" r="36" fill="#efe6da"/>
<path d="M640,1400 Q950,1680 1300,1380 Q1200,1560 950,1580 Q720,1560 640,1400Z" fill="#c58260" opacity="0.8"/>
</g></g></g></g>
<g transform="translate(764.4,1724.6)"><g clip-path="url(#pc)"><rect x="-80" y="-80" width="160" height="160" fill="#6b2e2a"/><g transform="translate(-80.4,-80.6) scale(0.082816)"><g filter="url(#bl)">
<rect x="0" y="0" width="1932" height="1932" fill="#552823"/>
<g fill="#683029"><rect x="120" y="200" width="70" height="660"/><rect x="260" y="200" width="70" height="660"/><rect x="1580" y="200" width="80" height="660"/><rect x="1730" y="300" width="70" height="560"/></g>
<rect x="0" y="860" width="1932" height="650" fill="#5f4d3c"/>
<rect x="0" y="860" width="1932" height="90" fill="#75624e"/>
<rect x="0" y="1420" width="1932" height="90" fill="#4d3d30"/>
<path d="M290,1600 L585,1410 L640,1932 L200,1932 Z" fill="#1e222b"/>
<path d="M1375,1390 L1640,1600 L1750,1932 L1300,1932 Z" fill="#1e222b"/>
<path d="M580,1400 L950,1730 L1372,1380 L1335,1932 L615,1932 Z" fill="#f4f5f8"/>
<path d="M700,1480 L950,1725 L1260,1480 Z" fill="#c98f7a"/>
<path d="M945,1745 L1060,1932 L820,1932 Z" fill="#1d2a3a"/>
<path d="M372,820 Q330,500 560,260 Q760,80 1000,95 Q1300,110 1450,400 Q1560,640 1500,900 L480,900 Z" fill="#b9b9bf"/>
<path d="M560,300 Q760,120 1000,130 Q1250,140 1400,380 Q1200,230 980,230 Q740,230 560,300Z" fill="#dcdce0"/>
<ellipse cx="955" cy="1090" rx="510" ry="580" fill="url(#skT)"/><ellipse cx="935" cy="680" rx="415" ry="385" fill="#cb9882"/>
<ellipse cx="930" cy="520" rx="300" ry="160" fill="#d8a893"/>
<path d="M585,735 Q720,660 880,705 L880,745 Q720,700 590,765 Z" fill="#4a4038"/>
<path d="M1035,705 Q1180,660 1305,735 L1300,765 Q1180,700 1040,745 Z" fill="#4a4038"/>
<ellipse cx="735" cy="805" rx="105" ry="30" fill="#3d2a20"/><ellipse cx="1160" cy="805" rx="105" ry="30" fill="#3d2a20"/>
<ellipse cx="735" cy="870" rx="130" ry="40" fill="#c08a78" opacity="0.7"/><ellipse cx="1160" cy="870" rx="130" ry="40" fill="#c08a78" opacity="0.7"/>
<path d="M900,760 L960,760 L1000,1050 L900,1050 Z" fill="#c99582" opacity="0.6"/>
<path d="M840,1060 Q950,1130 1065,1060 Q1040,1105 950,1110 Q870,1105 840,1060Z" fill="#8a5848"/>
<path d="M735,1215 Q930,1275 1125,1225 L1120,1250 Q930,1300 745,1245 Z" fill="#9a5f5c"/>
<path d="M790,1265 Q940,1300 1090,1265 Q1040,1340 940,1340 Q840,1340 790,1265Z" fill="#cf9090"/>
</g></g></g></g>
<g transform="translate(1074.8,1724.6)"><g clip-path="url(#pc)"><rect x="-80" y="-80" width="160" height="160" fill="#6f8870"/><g transform="translate(-80.8,-80.6) scale(0.082816)"><g filter="url(#bl)">
<rect x="0" y="0" width="1932" height="1932" fill="url(#bgB)"/>
<rect x="0" y="0" width="700" height="1932" fill="#0f3aa8"/>
<path d="M0,500 L200,520 L420,640 L560,400 L650,130 L0,0 Z" fill="#f2cf3e"/>
<path d="M60,1130 Q250,950 470,890" stroke="#c5cfe2" stroke-width="150" fill="none" stroke-linecap="round"/>
<g fill="#6a7fd0"><circle cx="300" cy="1500" r="35"/><circle cx="555" cy="1580" r="35"/><circle cx="420" cy="1700" r="25"/></g>
<rect x="650" y="60" width="800" height="900" fill="#7c937c"/>
<path d="M1400,1370 L1650,1590 L1800,1932 L1190,1932 L1340,1450 Z" fill="#1c1c22"/>
<path d="M460,1705 L685,1615 L650,1932 L380,1932 Z" fill="#1fae5e"/>
<path d="M640,1650 L700,1630 L720,1932 L640,1932 Z" fill="#1c1c22"/>
<path d="M680,1615 L900,1800 L1330,1450 L1205,1932 L700,1932 Z" fill="#eef0f7"/>
<path d="M690,1450 L1290,1400 L1250,1600 L900,1795 L700,1620 Z" fill="#cc8275"/>
<path d="M880,1815 L960,1932 L800,1932 Z" fill="#1d2a44"/>
<path d="M420,700 Q430,380 640,230 Q860,90 1120,150 Q1420,240 1500,560 Q1560,760 1500,900 L450,900 Z" fill="#3e352f"/>
<path d="M415,660 Q430,800 470,900 L540,880 L560,560 Z" fill="#8e8780"/>
<path d="M1360,520 L1500,620 Q1540,760 1490,890 L1400,870 Z" fill="#6e655e"/>
<ellipse cx="950" cy="960" rx="510" ry="640" fill="url(#skB)"/>
<ellipse cx="478" cy="1090" rx="45" ry="100" fill="#d9968a"/><ellipse cx="1468" cy="1050" rx="50" ry="110" fill="#d08a7c"/>
<path d="M540,520 Q700,330 1000,330 Q1280,340 1380,560 Q1250,430 1000,425 Q720,425 540,520Z" fill="#4a3e36"/>
<path d="M545,715 Q680,670 805,695 L800,735 Q680,710 550,750 Z" fill="#4a3a30"/>
<path d="M955,705 Q1100,660 1255,690 L1250,725 Q1100,700 960,740 Z" fill="#4a3a30"/>
<ellipse cx="690" cy="805" rx="85" ry="28" fill="#6e8ca8"/><ellipse cx="1080" cy="795" rx="85" ry="28" fill="#6e8ca8"/>
<ellipse cx="690" cy="860" rx="120" ry="36" fill="#c08074" opacity="0.6"/><ellipse cx="1085" cy="855" rx="120" ry="36" fill="#c08074" opacity="0.6"/>
<path d="M770,1020 Q870,1080 985,1020 Q960,1065 870,1070 Q800,1065 770,1020Z" fill="#a8685e"/>
<path d="M690,1185 Q880,1150 1065,1180 Q1030,1240 880,1240 Q740,1240 690,1185Z" fill="#b06a66"/>
<path d="M715,1185 Q880,1165 1050,1185 Q1000,1218 880,1218 Q770,1218 715,1185Z" fill="#f4eeea"/>
<path d="M640,1400 Q900,1640 1260,1400 Q1150,1560 900,1570 Q720,1550 640,1400Z" fill="#bf7a6e" opacity="0.7"/>
</g></g></g></g>
<g transform="translate(1420.3,1724.6)"><g clip-path="url(#pc)"><rect x="-80" y="-80" width="160" height="160" fill="#e3eaec"/><g transform="translate(-80.3,-80.6) scale(0.082816)"><g filter="url(#bl)">
<rect x="0" y="0" width="1932" height="1932" fill="#e6edf2"/>
<rect x="0" y="0" width="1932" height="500" fill="#cfe3f0"/>
<rect x="0" y="250" width="385" height="1700" fill="#dde2cf"/>
<rect x="380" y="250" width="110" height="1700" fill="#eef3f7"/>
<rect x="1600" y="500" width="170" height="1432" fill="#f0f2f4"/>
<rect x="1760" y="500" width="172" height="1432" fill="#dbddcb"/>
<rect x="1530" y="1100" width="150" height="320" fill="#6a7a50"/>
<rect x="480" y="1050" width="150" height="330" fill="#dfe6e8"/>
<rect x="515" y="1375" width="180" height="200" fill="#28b1ce"/>
<path d="M1490,1265 L1745,1450 L1932,1700 L1932,1932 L1090,1932 L1235,1560 Z" fill="#1a4e8c"/>
<path d="M700,1535 L880,1700 L1230,1560 L1478,1245 L1495,1285 L1100,1932 L760,1932 Z" fill="#f2eff4"/>
<path d="M385,1665 L705,1500 L770,1932 L300,1932 Z" fill="#3c9a4a"/>
<path d="M465,1625 L615,1550 L605,1810 L470,1740 Z" fill="#f2cc1c"/>
<path d="M760,1795 L872,1740 L950,1932 L775,1932 Z" fill="#d83a84"/>
<path d="M470,800 Q470,450 700,250 Q900,110 1150,150 Q1450,230 1540,560 Q1580,760 1540,860 L1440,900 L540,860 Z" fill="#d6d0ce"/>
<ellipse cx="960" cy="1000" rx="490" ry="560" fill="url(#skL)"/><ellipse cx="965" cy="640" rx="400" ry="340" fill="#e29c86"/>
<ellipse cx="960" cy="480" rx="280" ry="130" fill="#eaad98"/>
<ellipse cx="1553" cy="1010" rx="80" ry="195" fill="#d98e7a"/><ellipse cx="1560" cy="1010" rx="40" ry="120" fill="#c47864"/>
<ellipse cx="468" cy="880" rx="30" ry="90" fill="#d08a76"/>
<path d="M490,1080 Q600,1180 700,1090 Q960,1020 1230,1100 Q1380,1150 1455,990 Q1470,1300 1300,1520 Q1120,1700 930,1690 Q700,1660 560,1400 Q490,1250 490,1080 Z" fill="#c9c0bb"/>
<path d="M700,1200 Q920,1150 1130,1195 Q1090,1300 920,1305 Q760,1300 700,1200Z" fill="#7a3b38"/>
<path d="M745,1195 Q920,1165 1100,1192 Q1060,1240 920,1243 Q800,1240 745,1195Z" fill="#f2e9dc"/>
<path d="M600,730 Q720,680 850,720 L845,750 Q720,715 605,760 Z" fill="#a88a78"/>
<path d="M1010,720 Q1150,680 1280,730 L1275,760 Q1150,715 1015,750 Z" fill="#a88a78"/>
<ellipse cx="695" cy="805" rx="80" ry="22" fill="#6b4a3a"/><ellipse cx="1125" cy="812" rx="80" ry="22" fill="#6b4a3a"/>
<ellipse cx="880" cy="960" rx="135" ry="110" fill="#e8a590"/>
<path d="M760,1010 Q880,1075 1010,1010 Q980,1055 880,1060 Q800,1055 760,1010Z" fill="#b8705e"/>
</g></g></g></g>
<text x="351.48" y="1839.80" font-size="38.5" fill="#000" font-weight="bold" text-anchor="start" textLength="106.57" lengthAdjust="spacingAndGlyphs" stroke="#000" stroke-width="0.5">Dilma</text>
<text x="706.67" y="1837.90" font-size="38.5" fill="#000" font-weight="bold" text-anchor="start" textLength="115.62" lengthAdjust="spacingAndGlyphs" stroke="#000" stroke-width="0.5">Temer</text>
<text x="980.67" y="1840.00" font-size="38.5" fill="#000" font-weight="bold" text-anchor="start" textLength="187.21" lengthAdjust="spacingAndGlyphs" stroke="#000" stroke-width="0.5">Bolsonaro</text>
<text x="1381.30" y="1840.00" font-size="38.5" fill="#000" font-weight="bold" text-anchor="start" textLength="76.76" lengthAdjust="spacingAndGlyphs" stroke="#000" stroke-width="0.5">Lula</text>
<text x="76.19" y="1927.20" font-size="35" fill="#7a93a1" font-weight="normal" text-anchor="start" textLength="774.91" lengthAdjust="spacingAndGlyphs" stroke="#7a93a1" stroke-width="0.4">*mês de referência da inflação: junho de 2025</text>
<text x="76.26" y="1968.00" font-size="35" fill="#7a93a1" font-weight="normal" text-anchor="start" textLength="637.47" lengthAdjust="spacingAndGlyphs" stroke="#7a93a1" stroke-width="0.4">fonte: Secretaria do Tesouro Nacional</text>
<text x="77.44" y="2019.00" font-size="27.5" fill="#a7b8c2" font-weight="normal" text-anchor="start" textLength="669.87" lengthAdjust="spacingAndGlyphs" >© Poder360 - 2025 - todos os direitos reservados</text>
<rect x="1759.8" y="1994.4" width="287.4" height="53.6" fill="#11457e"/>
<text x="1785.97" y="2033.20" font-size="34.6" fill="#fff" font-weight="bold" text-anchor="start" textLength="194.02" lengthAdjust="spacingAndGlyphs" >1º.ago.2025</text>
</svg>
</body></html>
